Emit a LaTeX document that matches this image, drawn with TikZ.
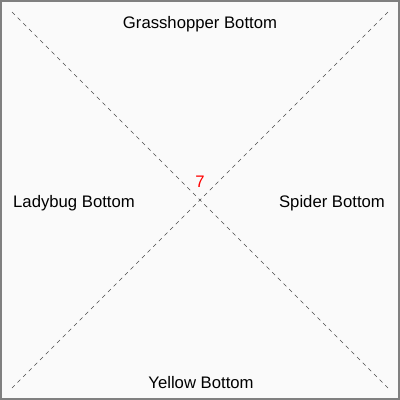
\documentclass[tikz,border=0pt]{standalone}
\usepackage{fontspec}
\setmainfont{Liberation Sans}
\begin{document}
\begin{tikzpicture}[x=1pt,y=-1pt,
  lbl/.style={font=\fontsize{16.7}{20}\selectfont, text=black, inner sep=0pt, anchor=center},
  diag/.style={draw=black!70, line width=0.6pt, dash pattern=on 4pt off 4pt}]
\useasboundingbox (0,0) rectangle (400,400);
\fill[black!2] (0,0) rectangle (400,400);
\draw[draw=black!50, line width=2pt] (1,1) rectangle (399,399);
\coordinate (tl) at (12,12);
\coordinate (tr) at (388,12);
\coordinate (bl) at (12,388);
\coordinate (br) at (388,388);
\draw[diag] (tl) -- (br);
\draw[diag] (tr) -- (bl);
\node[lbl] (top) at (200,24.5) {Grasshopper Bottom};
\node[lbl] (left) at (74,203.5) {Ladybug Bottom};
\node[lbl] (right) at (332,203.5) {Spider Bottom};
\node[lbl] (bottom) at (201,382.5) {Yellow Bottom};
\node[lbl, text=red] (num) at (200,182) {7};
\end{tikzpicture}
\end{document}
